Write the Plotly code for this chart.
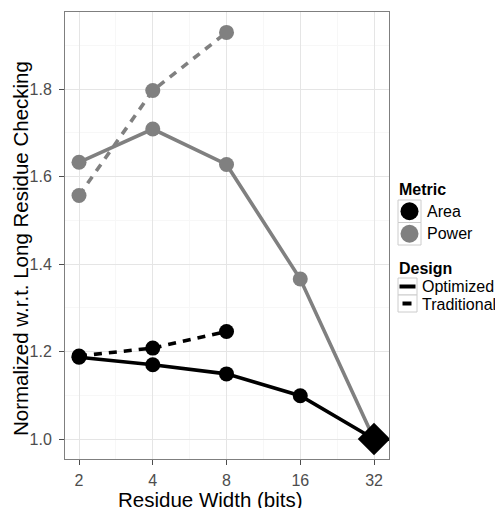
import math
import plotly.graph_objects as go

# ---- data ----
widths = [2, 4, 8, 16, 32]
widths_trad = [2, 4, 8]
area_opt = [1.187, 1.170, 1.149, 1.099, 1.000]
area_trad = [1.190, 1.208, 1.246]
power_opt = [1.633, 1.709, 1.628, 1.366, 1.000]
power_trad = [1.557, 1.797, 1.930]
ref_x = [32]
ref_y = [1.0]
x_ticks = [2, 4, 8, 16, 32]
x_ticklabels = ["2", "4", "8", "16", "32"]
y_ticks = [1.0, 1.2, 1.4, 1.6, 1.8]
y_ticklabels = ["1.0", "1.2", "1.4", "1.6", "1.8"]

FONT = "Liberation Sans, Arial, Helvetica, sans-serif"
BLACK = "#000000"
GRAY = "#808080"

# page geometry (pixels)
W, H = 495, 508
PL, PR, PT, PB = 65, 389, 12, 459   # panel edges


def X(px):
    return (px - PL) / (PR - PL)


def Y(py):
    return (PB - py) / (PB - PT)


fig = go.Figure()

line_w = 3.6
msize = 15
series = [
    (widths, power_opt, GRAY, "solid"),
    (widths_trad, power_trad, GRAY, "8px,7px"),
    (widths, area_opt, BLACK, "solid"),
    (widths_trad, area_trad, BLACK, "8px,7px"),
]
for xs, ys, col, dash in series:
    fig.add_trace(go.Scatter(
        x=xs, y=ys, mode="lines+markers",
        line=dict(color=col, width=line_w, dash=dash),
        marker=dict(color=col, size=msize, symbol="circle"),
        showlegend=False, hoverinfo="skip"))

fig.add_trace(go.Scatter(
    x=ref_x, y=ref_y, mode="markers",
    marker=dict(color=BLACK, size=25, symbol="diamond"),
    showlegend=False, hoverinfo="skip"))

log2_left, log2_right = 0.810, 5.203
fig.update_xaxes(
    type="log",
    range=[log2_left * math.log10(2), log2_right * math.log10(2)],
    tickvals=x_ticks, ticktext=x_ticklabels,
    tickfont=dict(family=FONT, size=16, color="#4D4D4D"),
    ticks="outside", ticklen=5, tickcolor="#4D4D4D", tickwidth=1,
    ticklabelstandoff=2,
    showgrid=True, gridcolor="#E5E5E5", gridwidth=1.2,
    minor=dict(tickvals=[2 * 2 ** 0.5, 4 * 2 ** 0.5, 8 * 2 ** 0.5, 16 * 2 ** 0.5],
               showgrid=True, gridcolor="#F7F7F7", gridwidth=1.2, ticks=""),
    showline=True, linecolor="#7F7F7F", linewidth=1, mirror=True,
    zeroline=False,
)
fig.update_yaxes(
    range=[0.9543, 1.9767],
    tickvals=y_ticks, ticktext=y_ticklabels,
    tickfont=dict(family=FONT, size=16, color="#4D4D4D"),
    ticks="outside", ticklen=5, tickcolor="#4D4D4D", tickwidth=1,
    ticklabelstandoff=4,
    showgrid=True, gridcolor="#E5E5E5", gridwidth=1.2,
    minor=dict(tickvals=[1.1, 1.3, 1.5, 1.7, 1.9],
               showgrid=True, gridcolor="#F7F7F7", gridwidth=1.2, ticks=""),
    showline=True, linecolor="#7F7F7F", linewidth=1, mirror=True,
    zeroline=False,
)


def txt(s, x, y, size=16, xanchor="left", yanchor="middle", angle=0):
    return dict(text=s, x=X(x), y=Y(y), xref="paper", yref="paper",
                xanchor=xanchor, yanchor=yanchor, showarrow=False, textangle=angle,
                font=dict(family=FONT, size=size, color="#000"))


annotations = [
    txt("Residue Width (bits)", 210, 499.5, size=20.5, xanchor="center"),
    txt("Normalized w.r.t. Long Residue Checking", 20, 249, size=20.5,
        xanchor="center", angle=-90),
    txt("<b>Metric</b>", 396.5, 189),
    txt("Area", 424.5, 211.5),
    txt("Power", 424.5, 233.5),
    txt("<b>Design</b>", 396.5, 268),
    txt("Optimized", 419.5, 286.5),
    txt("Traditional", 419.5, 304),
]

shapes = []
KEYB = "#CCCCCC"
# Metric keys
for top, col in [(200, BLACK), (222.5, GRAY)]:
    shapes.append(dict(type="rect", xref="paper", yref="paper",
                       x0=X(398), x1=X(421), y0=Y(top), y1=Y(top + 22.5),
                       line=dict(color=KEYB, width=1), fillcolor="white"))
    cx, cy, r = 409.5, top + 11.25, 9
    shapes.append(dict(type="circle", xref="paper", yref="paper",
                       x0=X(cx - r), x1=X(cx + r), y0=Y(cy - r), y1=Y(cy + r),
                       line=dict(color=col, width=0), fillcolor=col))
# Design keys
for top, seg in [(278, (399.5, 415.5)), (295, (402.5, 411.5))]:
    shapes.append(dict(type="rect", xref="paper", yref="paper",
                       x0=X(398), x1=X(417), y0=Y(top), y1=Y(top + 17),
                       line=dict(color=KEYB, width=1), fillcolor="white"))
    shapes.append(dict(type="line", xref="paper", yref="paper",
                       x0=X(seg[0]), x1=X(seg[1]), y0=Y(top + 8.5), y1=Y(top + 8.5),
                       line=dict(color=BLACK, width=4)))

fig.update_layout(
    width=W, height=H,
    margin=dict(l=PL, r=W - PR, t=PT, b=H - PB, pad=0),
    paper_bgcolor="white", plot_bgcolor="white",
    font=dict(family=FONT),
    showlegend=False,
    annotations=annotations,
    shapes=shapes,
)

fig.write_html(
    "out.html",
    config={"displayModeBar": False},
    post_script="document.body.style.margin='0';document.body.style.overflow='hidden';",
)
